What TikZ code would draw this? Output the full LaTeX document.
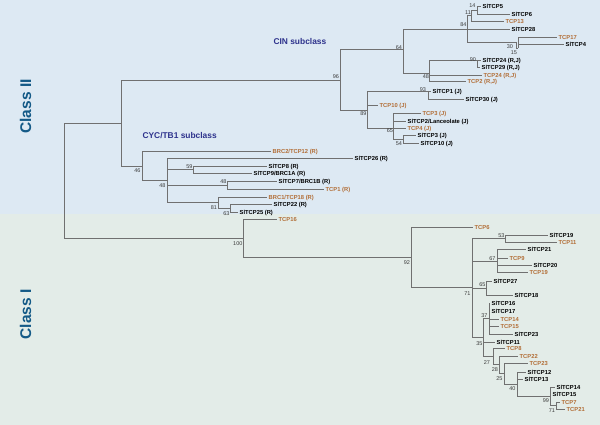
\documentclass[tikz,border=0pt]{standalone}
\usepackage{fontspec}
\setmainfont{Liberation Sans}
\usepackage{xcolor}
\usepackage{tikz}
\definecolor{topblue}{RGB}{221,233,243}
\definecolor{lowgreen}{RGB}{227,236,232}
\definecolor{branchgray}{RGB}{112,112,112}
\definecolor{tcpbrown}{RGB}{178,110,55}
\definecolor{classteal}{RGB}{20,90,135}
\definecolor{subblue}{RGB}{45,50,140}
\definecolor{bootgray}{RGB}{60,60,60}

\begin{document}
\begin{tikzpicture}[x=1pt,y=-1pt,
    branch/.style={draw=branchgray,line width=0.7pt},
    slleaf/.style={anchor=west,inner sep=0pt,inner xsep=1.5pt,text height=4.2pt,text depth=0pt,font=\fontsize{5.8}{6}\selectfont\bfseries},
    atleaf/.style={slleaf,text=tcpbrown},
    boot/.style={anchor=east,inner sep=0.4pt,text height=4pt,text depth=0pt,text=bootgray,font=\fontsize{5.5}{6}\selectfont},
    classlabel/.style={rotate=90,text=classteal,font=\fontsize{15.5}{16}\selectfont\bfseries},
    sublabel/.style={anchor=west,text=subblue,font=\fontsize{8.4}{9}\selectfont\bfseries}]
                \fill[topblue] (0,0) rectangle (600,214);
                \fill[lowgreen] (0,214) rectangle (600,425);
                \useasboundingbox (0,0) rectangle (600,425);

                \node[classlabel] (class2) at (25.5,106.5) {Class II};
                \node[classlabel] (class1) at (25.5,314.5) {Class I};
                \node[sublabel] (cin) at (270,41) {CIN subclass};
                \node[sublabel] (cyc) at (139,136) {CYC/TB1 subclass};

                \coordinate (root) at (64,180);
                \coordinate (c2) at (121,123);
                \coordinate (n96) at (340,80);
                \coordinate (n64) at (403,49);
                \coordinate (n84) at (467,29);
                \coordinate (n11) at (471,15.5);
                \coordinate (n14) at (477,10);
                \coordinate (n30) at (516,42);
                \coordinate (n15) at (518,48);
                \coordinate (n48a) at (429,73);
                \coordinate (n90) at (477,60);
                \coordinate (n89) at (367,110);
                \coordinate (n93) at (428,91);
                \coordinate (n65a) at (393,128);
                \coordinate (n54) at (403,139);
                \coordinate (n46) at (142,166);
                \coordinate (n48b) at (167,180);
                \coordinate (n59) at (193,169.5);
                \coordinate (n48c) at (227,185);
                \coordinate (n81) at (218,202.5);
                \coordinate (n63) at (230,208);
                \coordinate (n100) at (243,238);
                \coordinate (n92) at (411,257);
                \coordinate (n71a) at (472,287);
                \coordinate (n53) at (505,238.5);
                \coordinate (n67) at (497,261);
                \coordinate (n65b) at (486,288);
                \coordinate (n35) at (483,337);
                \coordinate (n37) at (489,318);
                \coordinate (n27) at (493,356);
                \coordinate (n28) at (499,364.5);
                \coordinate (n25) at (504,373);
                \coordinate (n40) at (517,384);
                \coordinate (n99) at (550,396);
                \coordinate (n71b) at (556,405.5);

                \node[slleaf] (sl5) at (481,6) {SlTCP5};
                \node[slleaf] (sl6) at (510,14) {SlTCP6};
                \node[atleaf] (at13) at (504,21) {TCP13};
                \node[slleaf] (sl28) at (510,29) {SlTCP28};
                \node[atleaf] (at17) at (557,37) {TCP17};
                \node[slleaf] (sl4) at (564,44) {SlTCP4};
                \node[slleaf] (sl24) at (481,60) {SlTCP24 (R,J)};
                \node[slleaf] (sl29) at (480,67) {SlTCP29 (R,J)};
                \node[atleaf] (at24) at (482,75) {TCP24 (R,J)};
                \node[atleaf] (at2) at (466,81) {TCP2 (R,J)};
                \node[slleaf] (sl1) at (431,91) {SlTCP1 (J)};
                \node[slleaf] (sl30) at (464,99) {SlTCP30 (J)};
                \node[atleaf] (at10) at (378,105) {TCP10 (J)};
                \node[atleaf] (at3) at (421,113) {TCP3 (J)};
                \node[slleaf] (sl2) at (406,121) {SlTCP2/Lanceolate (J)};
                \node[atleaf] (at4) at (406,128) {TCP4 (J)};
                \node[slleaf] (sl3) at (416,135) {SlTCP3 (J)};
                \node[slleaf] (sl10) at (419,143) {SlTCP10 (J)};

                \node[atleaf] (at12) at (271,151) {BRC2/TCP12 (R)};
                \node[slleaf] (sl26) at (353,158) {SlTCP26 (R)};
                \node[slleaf] (sl8) at (267,166) {SlTCP8 (R)};
                \node[slleaf] (sl9) at (252,173) {SlTCP9/BRC1A (R)};
                \node[slleaf] (sl7) at (277,181) {SlTCP7/BRC1B (R)};
                \node[atleaf] (at1) at (324,189) {TCP1 (R)};
                \node[atleaf] (at18) at (267,197) {BRC1/TCP18 (R)};
                \node[slleaf] (sl22) at (272,204) {SlTCP22 (R)};
                \node[slleaf] (sl25) at (238,212) {SlTCP25 (R)};

                \node[atleaf] (at16) at (277,219) {TCP16};
                \node[atleaf] (at6) at (473,227) {TCP6};
                \node[slleaf] (sl19) at (548,235) {SlTCP19};
                \node[atleaf] (at11) at (557,242) {TCP11};
                \node[slleaf] (sl21) at (526,249) {SlTCP21};
                \node[atleaf] (at9) at (508,258) {TCP9};
                \node[slleaf] (sl20) at (532,265) {SlTCP20};
                \node[atleaf] (at19) at (528,272) {TCP19};
                \node[slleaf] (sl27) at (492,281) {SlTCP27};
                \node[slleaf] (sl18) at (513,295) {SlTCP18};
                \node[slleaf] (sl16) at (490,303) {SlTCP16};
                \node[slleaf] (sl17) at (490,311) {SlTCP17};
                \node[atleaf] (at14) at (499,319) {TCP14};
                \node[atleaf] (at15) at (499,326) {TCP15};
                \node[slleaf] (sl23) at (513,334) {SlTCP23};
                \node[slleaf] (sl11) at (495,342) {SlTCP11};
                \node[atleaf] (at8) at (505,348) {TCP8};
                \node[atleaf] (at22) at (518,356) {TCP22};
                \node[atleaf] (at23) at (528,363) {TCP23};
                \node[slleaf] (sl12) at (526,372) {SlTCP12};
                \node[slleaf] (sl13) at (523,379) {SlTCP13};
                \node[slleaf] (sl14) at (555,387) {SlTCP14};
                \node[slleaf] (sl15) at (551,394) {SlTCP15};
                \node[atleaf] (at7) at (560,402) {TCP7};
                \node[atleaf] (at21) at (565,409) {TCP21};

                \draw[branch] (root) |- (c2) (root) |- (n100);
                \draw[branch] (c2) |- (n96) (c2) |- (n46);
                \draw[branch] (n96) |- (n64) (n96) |- (n89);
                \draw[branch] (n64) |- (n84) (n64) |- (n48a);
                \draw[branch] (n84) |- (n11) (n84) |- (sl28) (n84) |- (n30);
                \draw[branch] (n11) |- (n14) (n11) |- (at13);
                \draw[branch] (n14) |- (sl5) (n14) |- (sl6);
                \draw[branch] (n30) |- (n15);
                \draw[branch] (n15) |- (at17) (n15) |- (sl4);
                \draw[branch] (n48a) |- (n90) (n48a) |- (at24) (n48a) |- (at2);
                \draw[branch] (n90) |- (sl24) (n90) |- (sl29);
                \draw[branch] (n89) |- (n93) (n89) |- (at10) (n89) |- (n65a);
                \draw[branch] (n93) |- (sl1) (n93) |- (sl30);
                \draw[branch] (n65a) |- (at3) (n65a) |- (sl2) (n65a) |- (at4) (n65a) |- (n54);
                \draw[branch] (n54) |- (sl3) (n54) |- (sl10);
                \draw[branch] (n46) |- (at12) (n46) |- (n48b);
                \draw[branch] (n48b) |- (sl26) (n48b) |- (n59) (n48b) |- (n48c) (n48b) |- (n81);
                \draw[branch] (n59) |- (sl8) (n59) |- (sl9);
                \draw[branch] (n48c) |- (sl7) (n48c) |- (at1);
                \draw[branch] (n81) |- (at18) (n81) |- (n63);
                \draw[branch] (n63) |- (sl22) (n63) |- (sl25);
                \draw[branch] (n100) |- (at16) (n100) |- (n92);
                \draw[branch] (n92) |- (at6) (n92) |- (n71a);
                \draw[branch] (n71a) |- (n53) (n71a) |- (n67) (n71a) |- (n65b) (n71a) |- (n35);
                \draw[branch] (n53) |- (sl19) (n53) |- (at11);
                \draw[branch] (n67) |- (sl21) (n67) |- (at9) (n67) |- (sl20) (n67) |- (at19);
                \draw[branch] (n65b) |- (sl27) (n65b) |- (sl18);
                \draw[branch] (n35) |- (n37) (n35) |- (sl11) (n35) |- (n27);
                \draw[branch] (n37) |- (sl16) (n37) |- (sl17) (n37) |- (at14) (n37) |- (at15) (n37) |- (sl23);
                \draw[branch] (n27) |- (at8) (n27) |- (n28);
                \draw[branch] (n28) |- (at22) (n28) |- (n25);
                \draw[branch] (n25) |- (at23) (n25) |- (n40);
                \draw[branch] (n40) |- (sl12) (n40) |- (sl13) (n40) |- (n99);
                \draw[branch] (n99) |- (sl14) (n99) |- (sl15) (n99) |- (n71b);
                \draw[branch] (n71b) |- (at7) (n71b) |- (at21);

                \node[boot] (b14) at (476,6) {14};
                \node[boot] (b11) at (471.5,13) {11};
                \node[boot] (b84) at (467,25) {84};
                \node[boot] (b30) at (513.5,47) {30};
                \node[boot] (b15) at (517.5,53) {15};
                \node[boot] (b64) at (402.5,48) {64};
                \node[boot] (b90) at (476.5,60) {90};
                \node[boot] (b48a) at (429.5,77) {48};
                \node[boot] (b93) at (426.5,90) {93};
                \node[boot] (b96) at (339.5,77) {96};
                \node[boot] (b89) at (367,114) {89};
                \node[boot] (b65a) at (393.5,131) {65};
                \node[boot] (b54) at (402.5,144) {54};
                \node[boot] (b46) at (141,171) {46};
                \node[boot] (b59) at (193,166) {59};
                \node[boot] (b48b) at (166,185) {48};
                \node[boot] (b48c) at (227,181) {48};
                \node[boot] (b81) at (217.5,207) {81};
                \node[boot] (b63) at (230,213) {63};
                \node[boot] (b100) at (243,243) {100};
                \node[boot] (b92) at (410.5,262) {92};
                \node[boot] (b53) at (505,235) {53};
                \node[boot] (b67) at (496,258) {67};
                \node[boot] (b65b) at (486,284) {65};
                \node[boot] (b71a) at (471,293) {71};
                \node[boot] (b37) at (488,315) {37};
                \node[boot] (b35) at (483,343) {35};
                \node[boot] (b27) at (490.5,362) {27};
                \node[boot] (b28) at (498.5,369) {28};
                \node[boot] (b25) at (503,378) {25};
                \node[boot] (b40) at (516,388) {40};
                \node[boot] (b99) at (549.5,400) {99};
                \node[boot] (b71b) at (555.5,410) {71};
            \end{tikzpicture}
\end{document}
